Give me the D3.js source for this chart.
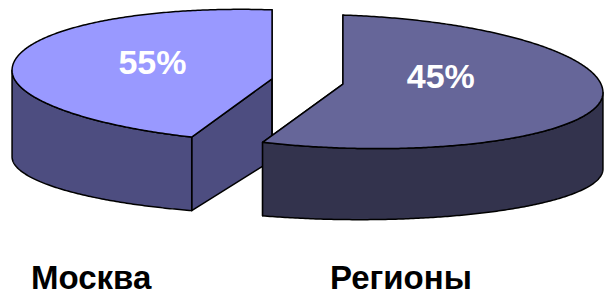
<!DOCTYPE html>
<html lang="ru">
<head>
<meta charset="UTF-8">
<title>Москва / Регионы</title>
<script src="https://d3js.org/d3.v7.min.js"></script>
<style>
  body { margin: 0; background: #fff; }
  text { font-family: "Liberation Sans", Arial, sans-serif; font-weight: bold; }
</style>
</head>
<body>
<script>
    var categories = ["Москва", "Регионы"];
    // printed on the slices, %
    var shares = [55, 45];
    // wedge sizes as they are drawn in the source (its printed labels are swapped)
    var wedges = [45, 55];
    var topColors = ["#9999ff", "#666699"];
    var sideColors = ["#4d4d80", "#33334d"];

    var width = 604, height = 296;
    var svg = d3.select("body").append("svg")
        .attr("width", width)
        .attr("height", height);

    // 3d view of the pie: a slightly tilted ellipse on top, a flatter one at the bottom
    var cx = 307.5, cy = 81.5, rx = 260;
    var ryBack = 69, ryFront = 64, skewTop = 8.5;
    var depth = 81.5, ryBottom = 54, skewBottom = 3.5;
    var explode = 0.138;

    function topPt(a, r) {
        var c = Math.cos(a), s = Math.sin(a);
        return [rx * r * s, -r * (c > 0 ? ryBack : ryFront) * c + r * skewTop * s];
    }
    function bottomPt(a, r) {
        var c = Math.cos(a), s = Math.sin(a);
        return [rx * r * s, depth - r * ryBottom * c + r * skewBottom * s];
    }
    function rim(f, from, to) {
        var n = Math.max(2, Math.ceil((to - from) / 0.01));
        return d3.range(n + 1).map(k => f(from + (to - from) * k / n, 1));
    }

    var line = d3.line();

    // counterclockwise from 12 o'clock
    var pie = d3.pie().sort(null).value(d => d.wedge)
        .startAngle(0).endAngle(-2 * Math.PI);

    var slices = pie(categories.map((c, i) => ({ name: c, share: shares[i], wedge: wedges[i], i: i })))
        .map(p => {
            var a0 = Math.min(p.startAngle, p.endAngle);
            var a1 = Math.max(p.startAngle, p.endAngle);
            if (a0 < -1e-9) { a0 += 2 * Math.PI; a1 += 2 * Math.PI; }
            var mid = (a0 + a1) / 2;
            var off = topPt(mid, explode);
            return { d: p.data, a0: a0, a1: a1, mid: mid, ox: cx + off[0], oy: cy + off[1] };
        })
        // back slices first
        .sort((a, b) => Math.cos(b.mid) - Math.cos(a.mid));

    slices.forEach(s => {
        var g = svg.append("g")
            .attr("transform", "translate(" + s.ox + "," + s.oy + ")");
        var faces = g.append("g")
            .attr("stroke", "#000")
            .attr("stroke-width", 1.5)
            .attr("stroke-linejoin", "round");

        // cut faces
        [s.a0, s.a1].forEach(e => {
            faces.append("path")
                .attr("d", line([[0, 0], topPt(e, 1), bottomPt(e, 1), [0, depth]]) + "Z")
                .attr("fill", sideColors[s.d.i]);
        });

        // outer wall, front half only
        var w0 = Math.max(s.a0, Math.PI / 2), w1 = Math.min(s.a1, 3 * Math.PI / 2);
        if (w1 > w0) {
            faces.append("path")
                .attr("d", line(rim(topPt, w0, w1).concat(rim(bottomPt, w0, w1).reverse())) + "Z")
                .attr("fill", sideColors[s.d.i]);
        }

        // top face
        faces.append("path")
            .attr("d", line([[0, 0]].concat(rim(topPt, s.a0, s.a1))) + "Z")
            .attr("fill", topColors[s.d.i]);

        // label at the centroid of the sector
        var th = s.a1 - s.a0;
        var lr = 4 * Math.sin(th / 2) / (3 * th);
        var c = Math.cos(s.mid);
        g.append("text")
            .attr("x", rx * lr * Math.sin(s.mid))
            .attr("y", -lr * (c > 0 ? ryBack : ryFront) * c - 12)
            .attr("dy", "0.36em")
            .attr("text-anchor", "middle")
            .attr("fill", "#fff")
            .attr("font-size", 34)
            .text(s.d.share + "%");
    });

    // names under the pie
    var xName = d3.scalePoint().domain(categories).range([31, 330]);
    svg.selectAll("text.name")
        .data(categories)
        .enter()
        .append("text")
        .attr("class", "name")
        .attr("x", d => xName(d))
        .attr("y", 289)
        .attr("font-size", 33)
        .attr("fill", "#000")
        .text(d => d);
</script>
</body>
</html>
